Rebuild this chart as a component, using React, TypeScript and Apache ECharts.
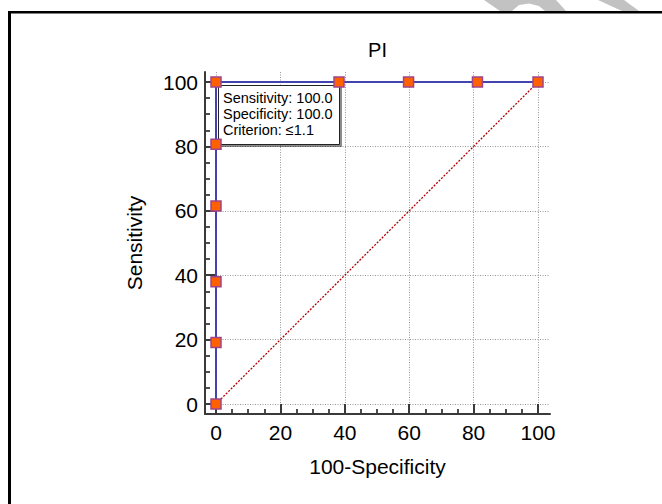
import React, { useEffect, useRef } from "react";
import * as echarts from "echarts";

// ---------- data ----------
const chartTitle = "PI";
const xAxisTitle = "100-Specificity";
const yAxisTitle = "Sensitivity";
const tickInterval = 20;
const rocX = [0, 0, 0, 0, 0, 0, 38.2, 59.8, 81.2, 100];
const rocY = [0, 19.1, 38.0, 61.5, 80.7, 100, 100, 100, 100, 100];
const diagonalX = [0, 100];
const diagonalY = [0, 100];
const annotationLines = ["Sensitivity: 100.0", "Specificity: 100.0", "Criterion: \u22641.1"];
const annotationAnchor = [0, 100];

// ---------- layout / style ----------
const W = 662;
const H = 504;
const FONT = "'Liberation Sans', Arial, Helvetica, sans-serif";
const box = { left: 205, top: 72, right: 550, bottom: 414 };
const plot = { left: 216, top: 82, right: 538, bottom: 404 };
const pxX = (plot.right - plot.left) / 100;
const pxY = (plot.bottom - plot.top) / 100;
const boxXMin = -(plot.left - box.left) / pxX;
const boxXMax = 100 + (box.right - plot.right) / pxX;
const boxYMin = -(box.bottom - plot.bottom) / pxY;
const boxYMax = 100 + (plot.top - box.top) / pxY;
const AXIS_COLOR = "#3a3a3a";

export default function App() {
  const ref = useRef<HTMLDivElement>(null);
  useEffect(() => {
    document.body.style.margin = "0";
    if (!ref.current) return;
    const chart = echarts.init(ref.current, undefined, { renderer: "svg" });

    const rocData = rocX.map((x, i) => [x, rocY[i]]);
    const diagData = diagonalX.map((x, i) => [x, diagonalY[i]]);

    const nameStyle = { fontSize: 21, color: "#000", fontFamily: FONT };
    const labelStyle = { fontSize: 21, color: "#000", fontFamily: FONT };

    const option: any = {
      animation: false,
      backgroundColor: "#fff",
      textStyle: { fontFamily: FONT },
      grid: [
        {
          left: box.left, top: box.top,
          width: box.right - box.left, height: box.bottom - box.top,
          containLabel: false, outerBoundsMode: "none",
        },
        {
          left: plot.left, top: plot.top,
          width: plot.right - plot.left, height: plot.bottom - plot.top,
          containLabel: false, outerBoundsMode: "none",
        },
      ],
      xAxis: [
        {
          gridIndex: 0, type: "value", min: boxXMin, max: boxXMax, splitNumber: 5,
          axisLine: { show: true, onZero: false, lineStyle: { color: AXIS_COLOR, width: 2 } },
          axisTick: { show: false }, axisLabel: { show: false },
          splitLine: { show: true, showMinLine: false, showMaxLine: false, lineStyle: { color: "#999", width: 1, type: [1, 1.5] } },
          name: xAxisTitle, nameLocation: "middle", nameGap: 42, nameTextStyle: nameStyle,
        },
        {
          gridIndex: 1, type: "value", min: 0, max: 100, interval: tickInterval, offset: box.bottom - plot.bottom,
          axisLine: { show: false, onZero: false },
          axisTick: { show: true, inside: true, length: 10, lineStyle: { color: AXIS_COLOR, width: 2 } },
          minorTick: { show: true, splitNumber: 4, length: 5, lineStyle: { color: AXIS_COLOR, width: 1.8 } },
          axisLabel: { ...labelStyle, margin: 8 },
          splitLine: { show: false },
        },
      ],
      yAxis: [
        {
          gridIndex: 0, type: "value", min: boxYMin, max: boxYMax, splitNumber: 5,
          axisLine: { show: true, onZero: false, lineStyle: { color: AXIS_COLOR, width: 2 } },
          axisTick: { show: false }, axisLabel: { show: false },
          splitLine: { show: true, showMinLine: false, showMaxLine: false, lineStyle: { color: "#999", width: 1, type: [1, 1.5] } },
          name: yAxisTitle, nameLocation: "middle", nameGap: 60, nameTextStyle: nameStyle,
        },
        {
          gridIndex: 1, type: "value", min: 0, max: 100, interval: tickInterval, offset: plot.left - box.left,
          axisLine: { show: false, onZero: false },
          axisTick: { show: true, inside: true, length: 10, lineStyle: { color: AXIS_COLOR, width: 2 } },
          minorTick: { show: true, splitNumber: 4, length: 5, lineStyle: { color: AXIS_COLOR, width: 1.8 } },
          axisLabel: { ...labelStyle, margin: 7 },
          splitLine: { show: false },
        },
      ],
      series: [
        {
          type: "line", xAxisIndex: 1, yAxisIndex: 1, data: diagData, symbol: "none", clip: false, z: 3,
          lineStyle: { color: "#b00000", width: 1.3, type: [2, 1.5] },
        },
        {
          type: "line", xAxisIndex: 1, yAxisIndex: 1, data: rocData, symbol: "rect", symbolSize: 10, clip: false, z: 10,
          lineStyle: { color: "#4343b0", width: 2 },
          itemStyle: { color: "#ff6000", borderColor: "#a0448a", borderWidth: 1.5 },
        },
      ],
    };
    chart.setOption(option);

    const p = chart.convertToPixel({ xAxisIndex: 1, yAxisIndex: 1 }, annotationAnchor) as number[];
    const ax = p[0];
    const ay = p[1];
    const annotation = {
      type: "group", z: 5,
      children: [
        {
          type: "rect", z: 5,
          shape: { x: ax + 2.5, y: ay + 3.5, width: 121, height: 59 },
          style: { fill: "#fff", stroke: "#222", lineWidth: 1, shadowColor: "rgba(0,0,0,0.45)", shadowOffsetX: 2, shadowOffsetY: 2, shadowBlur: 0 },
        },
        ...annotationLines.map((t, i) => ({
          type: "text", z: 6,
          x: ax + 7, y: ay + 16 + i * 16,
          style: { text: t, fontSize: 14.5, fontFamily: FONT, fill: "#000", textVerticalAlign: "middle" },
        })),
      ],
    };

    chart.setOption({
      graphic: [
        // watermark remnants above frame
        { type: "polygon", z: 0, shape: { points: [[484, 0], [556, 0], [566, 11], [545, 11], [539, 6], [529, 3.5], [519, 5], [512, 11], [500, 11]] }, style: { fill: "#c2c2c2" } },
        { type: "polygon", z: 0, shape: { points: [[598, 0], [624, 0], [639, 11], [622, 11]] }, style: { fill: "#c2c2c2" } },
        // frame
        { type: "line", z: 1, shape: { x1: 9.5, y1: 11, x2: 9.5, y2: H }, style: { stroke: "#000", lineWidth: 3 } },
        { type: "line", z: 1, shape: { x1: 8, y1: 12.3, x2: W, y2: 12.3 }, style: { stroke: "#000", lineWidth: 2.6 } },
        // title
        { type: "text", z: 2, x: (box.left + box.right) / 2, y: 50, style: { text: chartTitle, fontSize: 20, fontFamily: FONT, fill: "#000", textAlign: "center", textVerticalAlign: "middle" } },
        annotation,
      ],
    });

    return () => chart.dispose();
  }, []);
  return <div ref={ref} style={{ width: W, height: H }} />;
}
